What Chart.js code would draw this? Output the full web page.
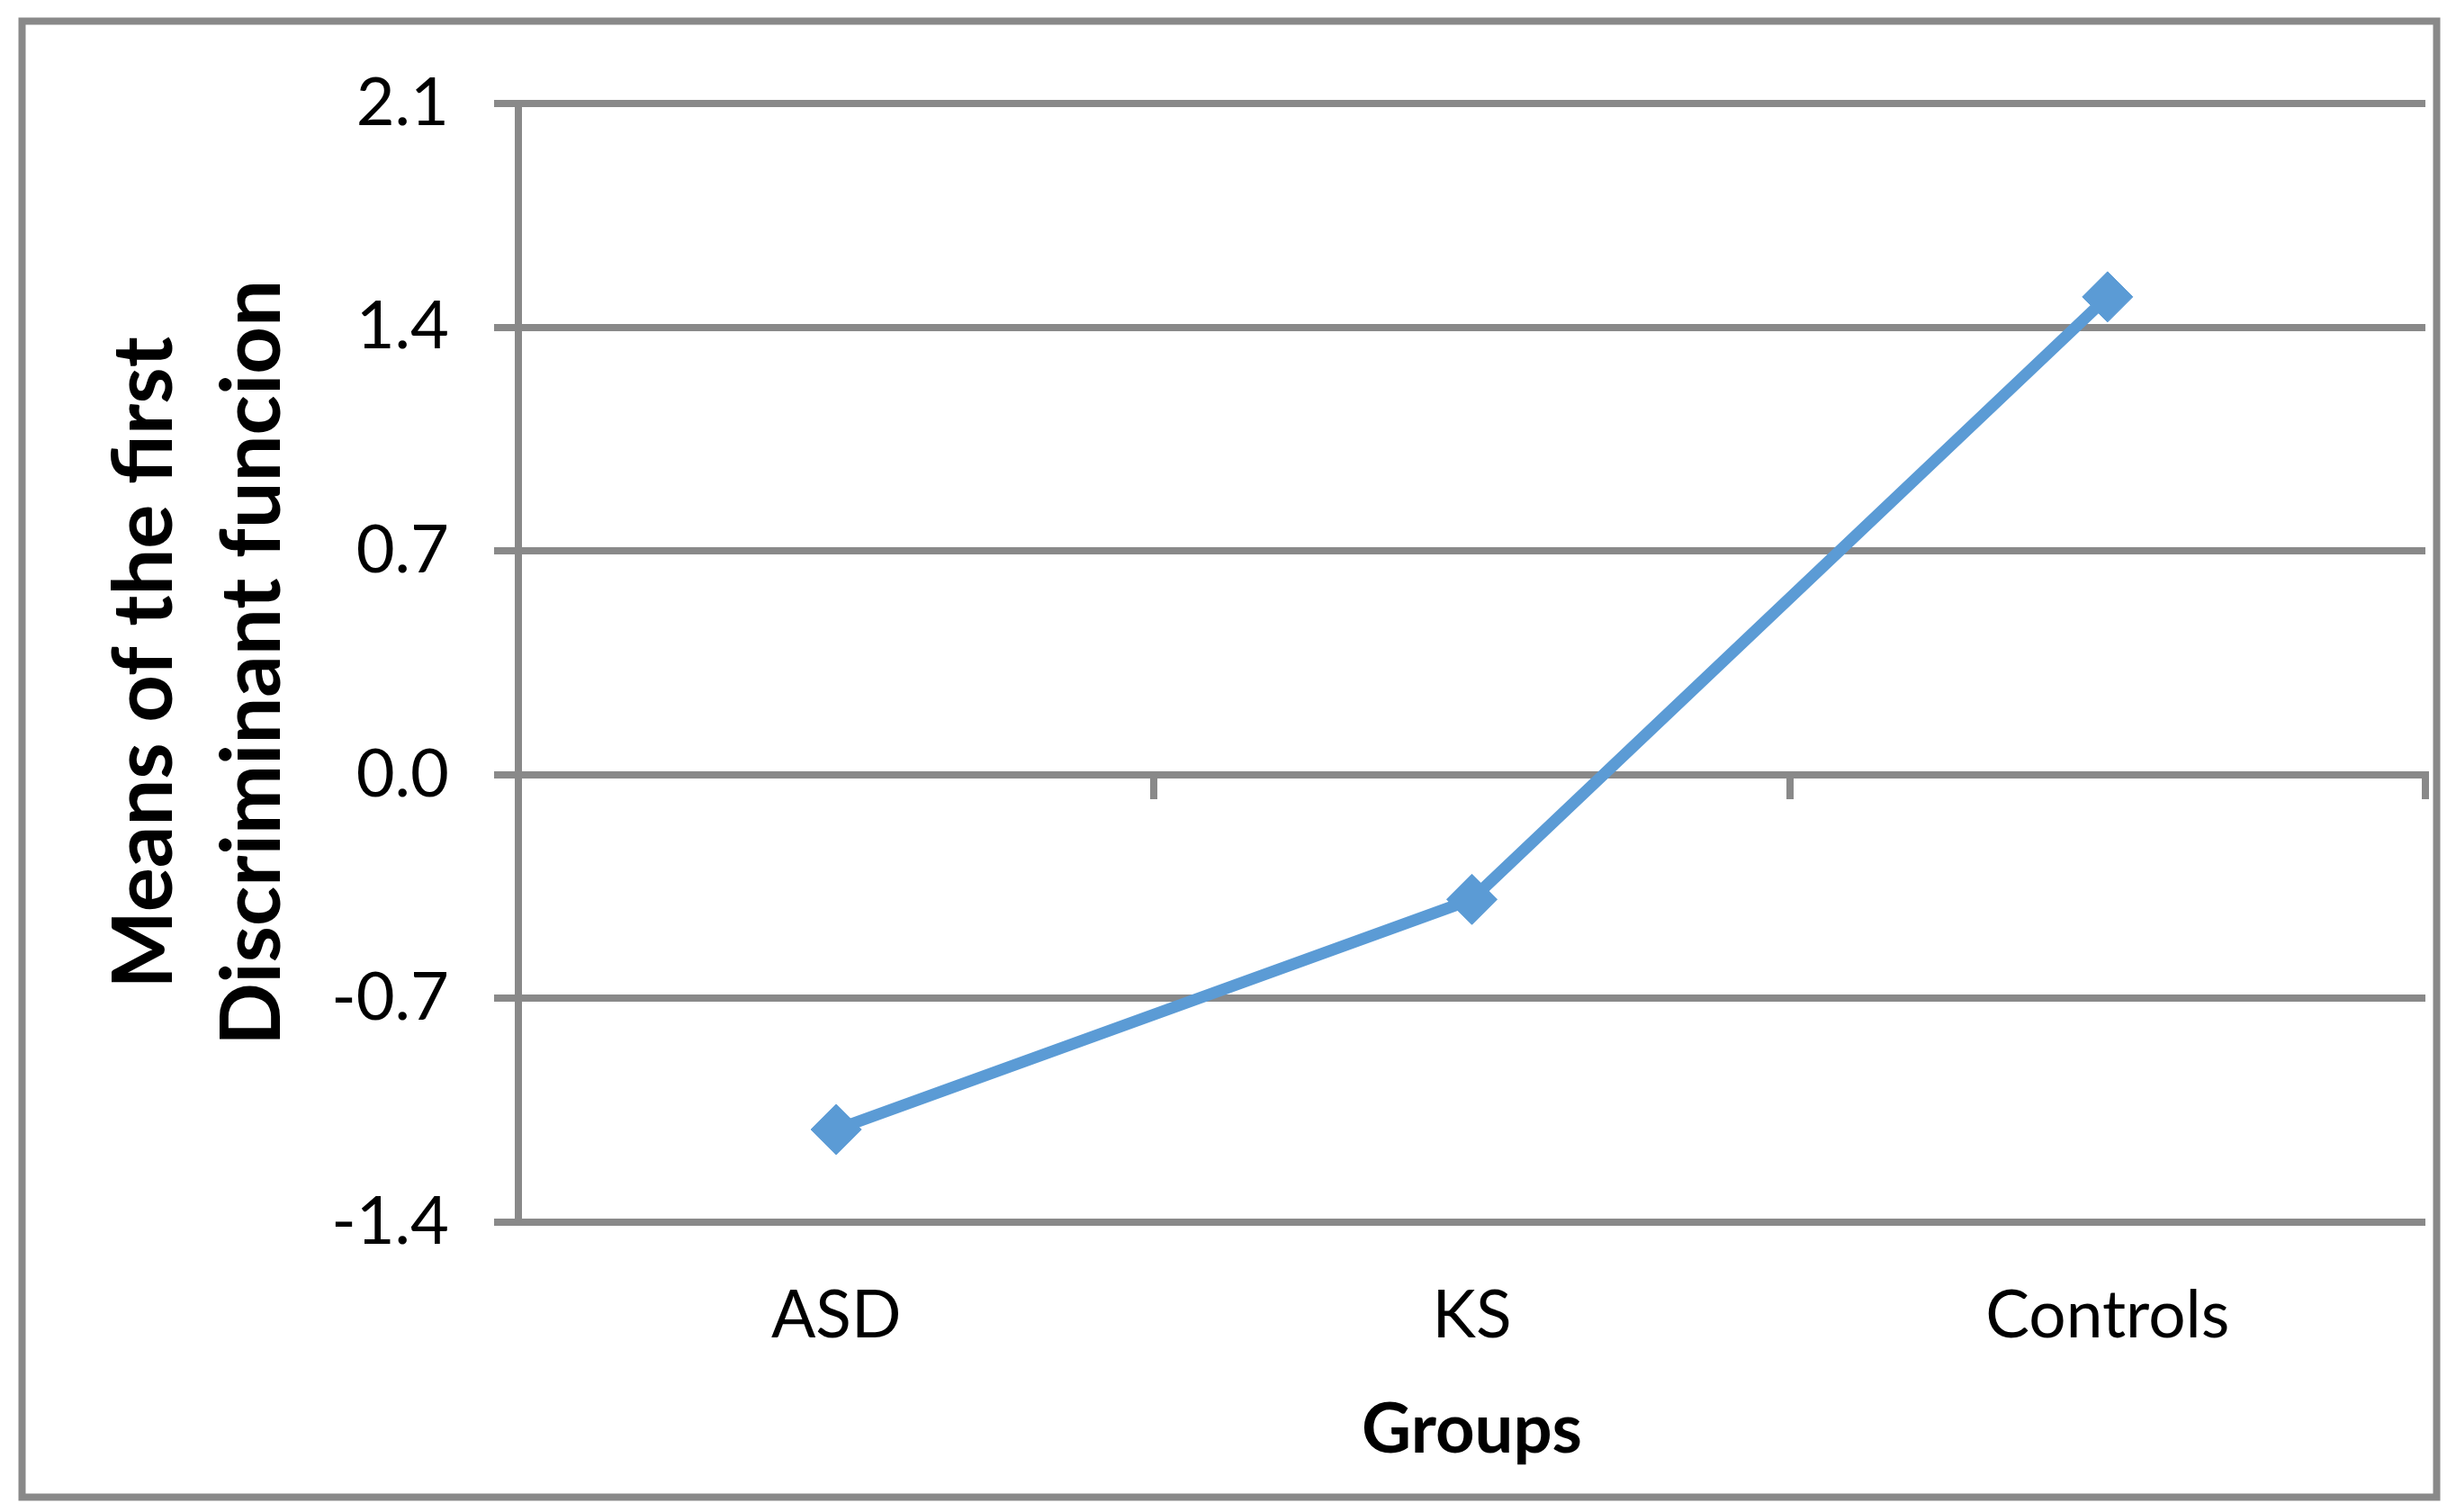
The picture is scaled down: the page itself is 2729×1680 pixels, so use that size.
<!DOCTYPE html>
<html>
<head>
<meta charset="utf-8">
<script src="https://cdn.jsdelivr.net/npm/chart.js@4/dist/chart.umd.min.js"></script>
<style>
  html, body { margin: 0; padding: 0; background: #ffffff; }
  #wrap { width: 2729px; height: 1680px; position: relative; }
</style>
</head>
<body>
<div id="wrap"><canvas id="c"></canvas></div>
<script>
// ---- data ----
const categories = ['ASD', 'KS', 'Controls'];
const meansFirstFunction = [-1.11, -0.39, 1.495];
const yTicks = [-1.4, -0.7, 0.0, 0.7, 1.4, 2.1];
const yTitle = ['Means of the first', 'Discriminant funcion'];
const xTitle = 'Groups';

const GRID = '#898989';
const LINE = '#5B9BD5';
const FONT = 'Lato';

const outerBorder = {
  id: 'outerBorder',
  beforeDraw(chart) {
    const ctx = chart.ctx;
    ctx.save();
    ctx.fillStyle = '#ffffff';
    ctx.fillRect(0, 0, chart.width, chart.height);
    ctx.strokeStyle = GRID;
    ctx.lineWidth = 8;
    ctx.strokeRect(24.5, 23.5, 2683, 1640);
    ctx.restore();
  }
};

new Chart(document.getElementById('c'), {
  type: 'line',
  data: {
    labels: categories,
    datasets: [{
      data: meansFirstFunction,
      borderColor: LINE,
      backgroundColor: LINE,
      borderWidth: 13,
      pointStyle: 'rectRot',
      pointRadius: 28,
      pointHoverRadius: 28,
      pointBorderWidth: 1,
      pointBorderColor: LINE,
      pointBackgroundColor: LINE,
      tension: 0,
      fill: false
    }]
  },
  options: {
    responsive: true,
    maintainAspectRatio: false,
    devicePixelRatio: 1,
    animation: false,
    events: [],
    layout: { padding: { left: 0, top: 115, right: 34, bottom: 0 } },
    plugins: { legend: { display: false }, tooltip: { enabled: false } },
    scales: {
      x: {
        type: 'category',
        position: 'bottom',
        offset: true,
        grid: { display: false, drawTicks: false },
        border: { display: false },
        ticks: {
          color: '#000000',
          font: { family: FONT, size: 73, lineHeight: 1.2 },
          padding: 61,
          maxRotation: 0,
          autoSkip: false
        },
        title: {
          display: true,
          text: xTitle,
          color: '#000000',
          font: { family: FONT, size: 76, weight: 'bold', lineHeight: 1.2 },
          padding: { top: 0, bottom: 45 }
        },
        afterFit(scale) { scale.height = 322; }
      },
      x2: {
        type: 'category',
        labels: categories,
        position: { y: 0 },
        offset: true,
        grid: {
          offset: true,
          drawOnChartArea: false,
          drawTicks: true,
          tickLength: 23,
          color: GRID,
          lineWidth: 8
        },
        border: { display: true, color: GRID, width: 8 },
        ticks: { display: false }
      },
      y: {
        min: -1.4,
        max: 2.1,
        afterBuildTicks(scale) { scale.ticks = yTicks.map(v => ({ value: v })); },
        grid: {
          color: GRID,
          lineWidth: 8,
          drawTicks: true,
          tickLength: 27
        },
        border: { display: true, color: GRID, width: 8 },
        ticks: {
          color: '#000000',
          font: { family: FONT, size: 74, lineHeight: 1.2 },
          padding: 50,
          callback: (v) => (Math.abs(v) < 1e-9 ? 0 : v).toFixed(1)
        },
        title: {
          display: true,
          text: yTitle,
          color: '#000000',
          font: { family: FONT, size: 92, weight: 'bold', lineHeight: 1.3 },
          padding: { top: 102, bottom: 0 }
        },
        afterFit(scale) { scale.width = 576; }
      }
    }
  },
  plugins: [outerBorder]
});
</script>
</body>
</html>
